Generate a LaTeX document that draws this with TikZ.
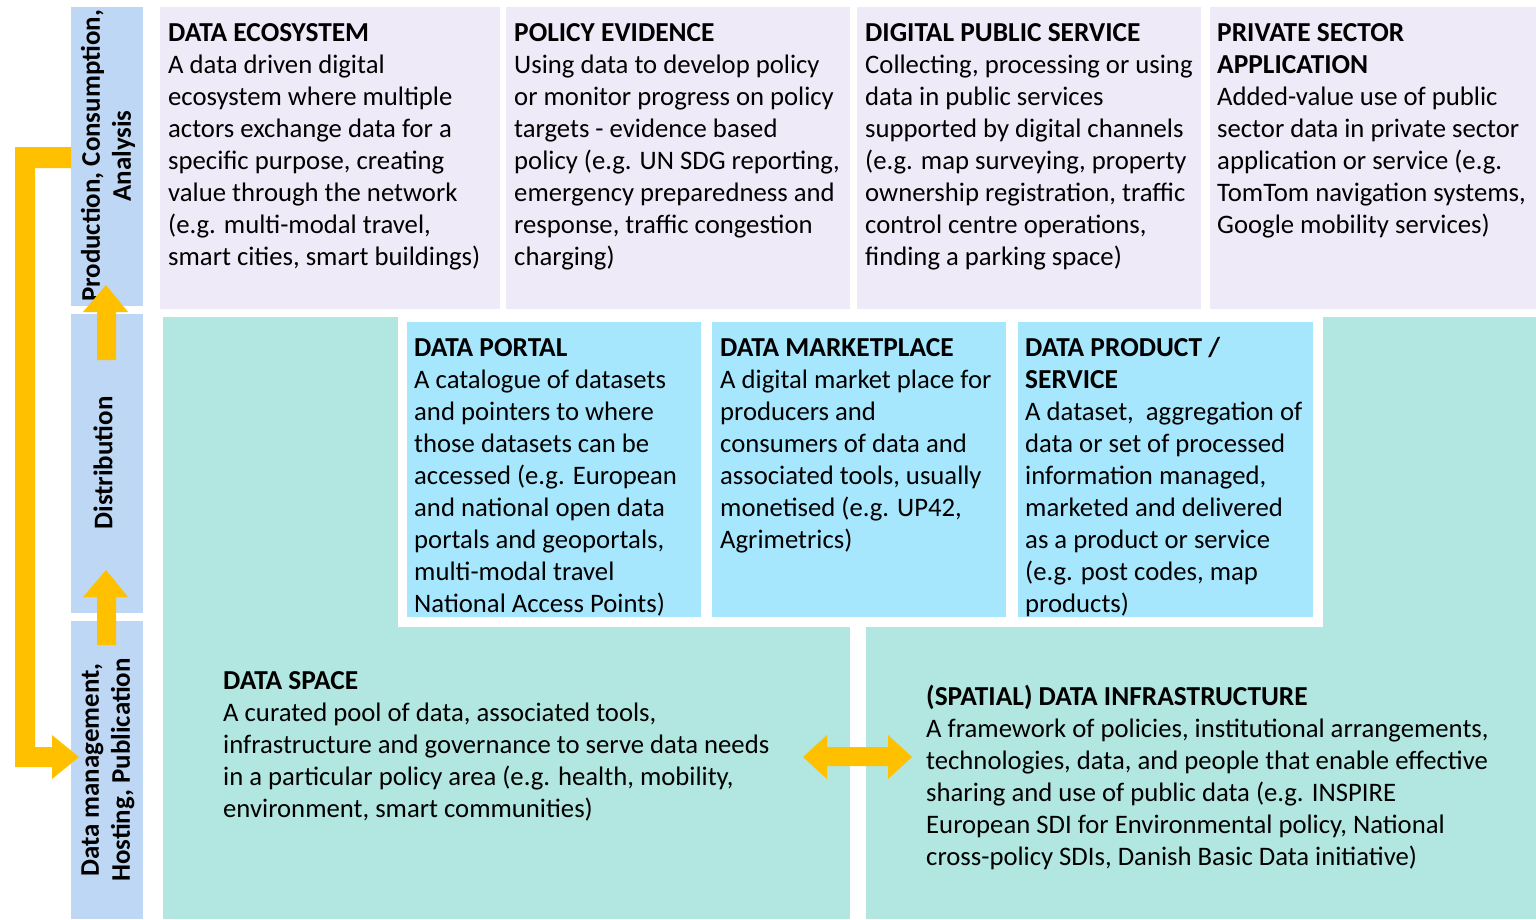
\documentclass[tikz,border=0pt]{standalone}
\usepackage{fontspec}
\setmainfont{Carlito}
\definecolor{purp}{HTML}{EEEAF8}
\definecolor{lblue}{HTML}{BDD7F4}
\definecolor{teal2}{HTML}{B2E6E1}
\definecolor{sky}{HTML}{A7E7FD}
\definecolor{orng}{HTML}{FFC000}
\newcommand{\hd}[1]{{\fontsize{27.4}{32}\selectfont\bfseries #1}}
\begin{document}
\begin{tikzpicture}[x=1pt,y=-1pt,
  txt/.style={anchor=base west,inner sep=0pt,align=left,font=\fontsize{26.7}{32}\selectfont},
  side/.style={rotate=90,inner sep=0pt,align=center,font=\fontsize{26.9}{31}\selectfont\bfseries},
  arr/.style={fill=orng,draw=none}]
\useasboundingbox (0,0) rectangle (1536,919);
% left column
\fill[lblue] (71,7) rectangle (143,306);
\fill[lblue] (71,314) rectangle (143,613);
\fill[lblue] (71,621) rectangle (143,919);
% top boxes
\fill[purp] (160,7) rectangle (500,309);
\fill[purp] (506,7) rectangle (850,309);
\fill[purp] (857,7) rectangle (1201,309);
\fill[purp] (1210,7) rectangle (1536,309);
% teal
\fill[teal2] (163,317) rectangle (850,919);
\fill[teal2] (866,317) rectangle (1536,919);
\fill[white] (398,317) rectangle (1323,627);
% blue boxes
\fill[sky] (407,322) rectangle (701,617);
\fill[sky] (712,322) rectangle (1006,617);
\fill[sky] (1018,322) rectangle (1313,617);

% side labels
\node[side] (s1) at (108,156) {Production, Consumption,\\Analysis};
\node[side] (s2) at (103,463) {Distribution};
\node[side] (s3) at (108,770) {Data management,\\Hosting, Publication};

% texts (anchor = baseline of last line)
\node[txt] (t1) at (168,265) {\hd{DATA ECOSYSTEM}\\A data driven digital\\ecosystem where multiple\\actors exchange data for a\\specific purpose, creating\\value through the network\\(e.g. multi-modal travel,\\smart cities, smart buildings)};
\node[txt] (t2) at (514,265) {\hd{POLICY EVIDENCE}\\Using data to develop policy\\or monitor progress on policy\\targets - evidence based\\policy (e.g. UN SDG reporting,\\emergency preparedness and\\response, traffic congestion\\charging)};
\node[txt] (t3) at (865,265) {\hd{DIGITAL PUBLIC SERVICE}\\Collecting, processing or using\\data in public services\\supported by digital channels\\(e.g. map surveying, property\\ownership registration, traffic\\control centre operations,\\finding a parking space)};
\node[txt] (t4) at (1217,233) {\hd{PRIVATE SECTOR}\\\hd{APPLICATION}\\Added-value use of public\\sector data in private sector\\application or service (e.g.\\TomTom navigation systems,\\Google mobility services)};
\node[txt] (b1) at (414,612) {\hd{DATA PORTAL}\\A catalogue of datasets\\and pointers to where\\those datasets can be\\accessed (e.g. European\\and national open data\\portals and geoportals,\\multi-modal travel\\National Access Points)};
\node[txt] (b2) at (720,548) {\hd{DATA MARKETPLACE}\\A digital market place for\\producers and\\consumers of data and\\associated tools, usually\\monetised (e.g. UP42,\\Agrimetrics)};
\node[txt] (b3) at (1025,612) {\hd{DATA PRODUCT /}\\\hd{SERVICE}\\A dataset,\ \ aggregation of\\data or set of processed\\information managed,\\marketed and delivered\\as a product or service\\(e.g. post codes, map\\products)};
\node[txt] (d1) at (223,817) {\hd{DATA SPACE}\\A curated pool of data, associated tools,\\infrastructure and governance to serve data needs\\in a particular policy area (e.g. health, mobility,\\environment, smart communities)};
\node[txt] (d2) at (926,865) {\hd{(SPATIAL) DATA INFRASTRUCTURE}\\A framework of policies, institutional arrangements,\\technologies, data, and people that enable effective\\sharing and use of public data (e.g. INSPIRE\\European SDI for Environmental policy, National\\cross-policy SDIs, Danish Basic Data initiative)};

% arrows
\fill[arr] (15,147) -- (71,147) -- (71,168) -- (35,168) -- (35,747) -- (52,747) -- (52,735) -- (79,757) -- (52,779) -- (52,767) -- (15,767) -- cycle;
\fill[arr] (97,645) -- (97,597) -- (83,597) -- (106,570) -- (128,597) -- (116,597) -- (116,645) -- cycle;
\fill[arr] (97,360) -- (97,312) -- (83,312) -- (106,285) -- (128,312) -- (116,312) -- (116,360) -- cycle;
\fill[arr] (803,757) -- (827,735) -- (827,747) -- (888,747) -- (888,735) -- (912,757) -- (888,779) -- (888,766) -- (827,766) -- (827,779) -- cycle;
\end{tikzpicture}
\end{document}
